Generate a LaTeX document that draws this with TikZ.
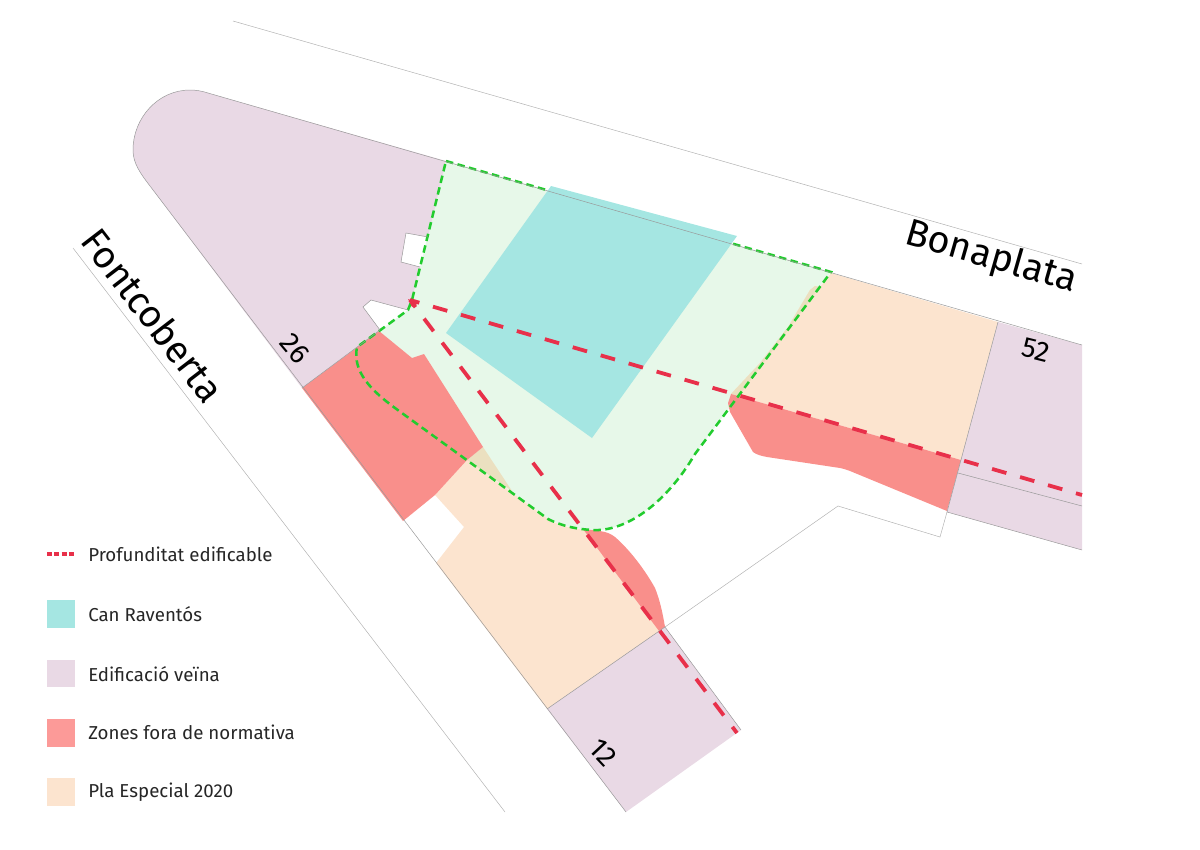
\documentclass[tikz,border=0pt]{standalone}
\usepackage{fontspec}
\setmainfont{Fira Sans}
\definecolor{canraventos}{HTML}{A5E6E2}
\definecolor{veina}{HTML}{E9D9E5}
\definecolor{fora}{HTML}{F98F8B}
\definecolor{foraleg}{HTML}{FC9A98}
\definecolor{pla}{HTML}{FCE4CF}
\definecolor{plagreen}{HTML}{EBE0C0}
\definecolor{solar}{HTML}{E7F8E9}
\definecolor{limit}{HTML}{22CC2E}
\definecolor{profund}{HTML}{E8304A}
\tikzset{
  parcel/.style={draw=black!40,line width=0.35pt},
  street/.style={draw=black!30,line width=0.35pt},
  solarline/.style={draw=limit,line width=1.8pt,dash pattern=on 5.3pt off 3.2pt},
  depthline/.style={draw=profund,line width=2.7pt,dash pattern=on 10.6pt off 10.1pt,dash phase=3.7pt},
  depthdiag/.style={draw=profund,line width=2.7pt,dash pattern=on 11.2pt off 10.2pt,dash phase=4.8pt},
  streetname/.style={font=\fontsize{27}{27}\selectfont},
  parcelnum/.style={font=\fontsize{20}{20}\selectfont},
  legendtext/.style={anchor=west,inner sep=0pt,font=\fontsize{13.3}{13.3}\selectfont,text=black!85}
}
\begin{document}
\begin{tikzpicture}[x=0.025cm,y=-0.025cm]
\useasboundingbox (0,0) rectangle (1200,849);

% solar
\fill[solar] (446,161) -- (831,272) -- (695,454) .. controls (665,505) and (625,532) .. (592,530) .. controls (578,529) and (564,527) .. (548,519) -- (395,408) .. controls (372,391) and (352,372) .. (357,347) -- (408,310) -- (412,300) -- cycle;

% pla especial
\fill[pla] (435,495) -- (467,460) -- (548,519) .. controls (560,526) and (572,528) .. (585,530) -- (660,631) -- (547,709) -- (436,563) -- (464,527) -- cycle;
\fill[plagreen] (483,447) -- (467,460) -- (512,491) -- cycle;
\fill[pla] (731,394) -- (760,363) -- (788,327) -- (810,290) -- (815,286) -- (820,287) -- (831,273) -- (998,322) -- (961,460) -- cycle;
\fill[plagreen] (731,394) -- (760,363) -- (788,327) -- (810,290) -- (815,286) -- (820,287) -- (738,397) -- cycle;

% zones fora de normativa
\fill[fora] (302,388) -- (379,331) -- (412,358) -- (424,354) -- (483,447) -- (467,460) -- (435,495) -- (403,521) -- cycle;
\fill[fora] (583,529) -- (600,531) .. controls (607,532) and (611,534) .. (615,537) .. controls (630,550) and (645,570) .. (655,588) .. controls (660,600) and (663,615) .. (665,627) -- (659,631) -- cycle;
\fill[fora] (731,394) -- (728,403) -- (730,412) -- (753,452) .. controls (757,455) and (762,456) .. (767,457) -- (840,468) .. controls (845,469) and (847,470) .. (850,471) -- (947,511) -- (961,460) -- cycle;

% edificacio veina
\fill[veina] (208,93) .. controls (202,91) and (196,90) .. (190,90) .. controls (158,90) and (133,118) .. (133,150) .. controls (133,163) and (140,173) .. (150,186) -- (302,388) -- (380,330) -- (363,307) -- (371,300) -- (408,310) -- (412,300) -- (420,267) -- (401,262) -- (406,233) -- (428,237) -- (446,161) -- cycle;
\fill[veina] (547,709) -- (665,627) -- (741,730) -- (626,812) -- cycle;
\fill[veina] (998,322) -- (1082,345) -- (1082,550) -- (947,512) -- cycle;

% limit solar
\draw[solarline] (446,161) -- (831,272) -- (695,454) .. controls (665,505) and (625,532) .. (592,530) .. controls (578,529) and (564,527) .. (548,519) -- (395,408) .. controls (372,391) and (352,372) .. (357,347) -- (408,310) -- (412,300) -- cycle;

% can raventos
\fill[canraventos] (551,186) -- (737,236) -- (592,438) -- (446,333) -- cycle;

% carrers
\draw[street] (233,21) -- (1082,264);
\draw[street] (73,248) -- (505,812);
\draw[street] (665,627) -- (838,506) -- (940,537) -- (947,512);

% parcel.les
\draw[parcel] (1082,345) -- (208,93) .. controls (202,91) and (196,90) .. (190,90) .. controls (158,90) and (133,118) .. (133,150) .. controls (133,163) and (140,173) .. (150,186) -- (626,812);
\draw[parcel] (302,388) -- (380,330) -- (363,307) -- (371,300) -- (408,310);
\draw[parcel] (420,267) -- (401,262) -- (406,233) -- (428,237);
\draw[parcel] (547,709) -- (665,627) -- (741,730);
\draw[parcel] (998,322) -- (947,512) -- (1082,550);
\draw[parcel] (958,473) -- (1082,506);

% profunditat edificable
\draw[depthline] (410,300) -- (1082,495);
\draw[depthdiag] (410,300) -- (737,733);
\fill[profund] (408,299) -- (419,303) -- (412,307) -- cycle;

% carrers i numeros
\node [streetname,rotate=-16] (bonaplata) at (991,258) {Bonaplata};
\node [streetname,rotate=-52.5] (fontcoberta) at (153,315) {Fontcoberta};
\node [parcelnum,rotate=-50] (num26) at (295,349) {26};
\node [parcelnum,rotate=-47] (num12) at (603,753) {12};
\node [parcelnum,rotate=-14] (num52) at (1036,350) {52};

% llegenda
\draw[draw=profund,line width=2.3pt,dash pattern=on 3.5pt off 1.7pt] (47,554) -- (75,554);
\node [legendtext] (legdepth) at (88,554) {Profunditat edificable};
\fill[canraventos] (47,600) rectangle (75,628);
\node [legendtext] (legcan) at (88,614) {Can Raventós};
\fill[veina] (47,660) rectangle (75,687);
\node [legendtext] (legveina) at (88,674) {Edificació veïna};
\fill[foraleg] (47,719) rectangle (75,747);
\node [legendtext] (legfora) at (88,732) {Zones fora de normativa};
\fill[pla] (47,778) rectangle (75,806);
\node [legendtext] (legpla) at (88,792) {Pla Especial 2020};

\end{tikzpicture}
\end{document}
